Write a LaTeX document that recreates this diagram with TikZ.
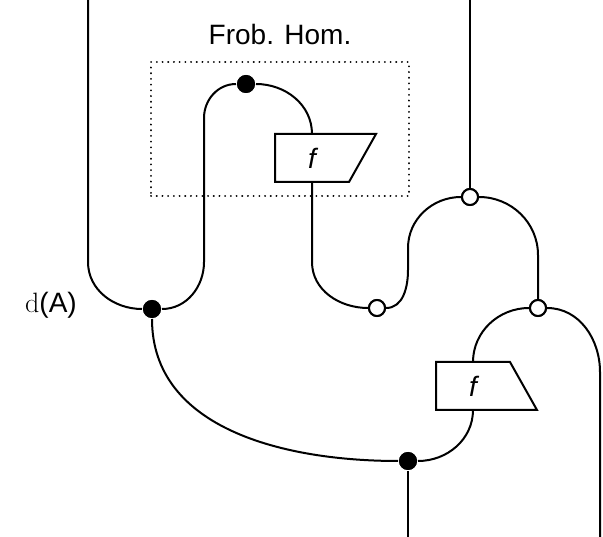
\documentclass[tikz,border=0pt]{standalone}
\usepackage{fontspec}
\newfontfamily\labelfont{Liberation Sans}
\begin{document}
\begin{tikzpicture}[x=1pt, y=-1pt, line width=2pt,
  blackdot/.style={circle, fill=black, inner sep=0pt, minimum size=18pt},
  whitedot/.style={circle, draw, fill=white, inner sep=0pt, minimum size=16pt},
  fbox/.style={rectangle, inner sep=0pt, minimum width=72pt, minimum height=46pt,
    font=\fontsize{28}{32}\selectfont\labelfont\itshape},
  txt/.style={font=\fontsize{28}{32}\selectfont\labelfont}]

  \useasboundingbox (0,0) rectangle (603,537);

  % Define the spiders and the two f boxes
  \node[blackdot] (d1) at (152,309) {};
  \node[blackdot] (d2) at (246,84) {};
  \node[blackdot] (d3) at (408,461) {};
  \node[whitedot] (w1) at (377,308) {};
  \node[whitedot] (w2) at (470,197) {};
  \node[whitedot] (w3) at (538,308) {};
  \node[fbox] (f1) at (312,158) {};
  \node[fbox] (f2) at (473,386) {};

  % Free ends of the wires
  \coordinate (topL) at (88,0);
  \coordinate (topR) at (470,0);
  \coordinate (botL) at (408,537);
  \coordinate (botR) at (600,537);

  % Dotted region with its title
  \node[draw, line width=2pt, dash pattern=on 0.1pt off 5.6pt, line cap=round,
    minimum width=258pt, minimum height=134pt] (hom) at (280,129) {};
  \node[txt] (title) at (280,34) {Frob. Hom.};
  \node[font=\fontsize{28}{32}\selectfont] (dA) at (51,305) {d{\labelfont(A)}};

  % Draw the wires
  \draw (topL) -- (88,262) to[out=-90, in=180] (d1);
  \draw (d1) to[out=0, in=-90] (204,262) -- (204,118) to[out=90, in=180] (d2);
  \draw (d2) to[out=0, in=90] (f1.north);
  \draw (f1.south) -- (312,262) to[out=-90, in=180] (w1);
  \draw (w1) to[out=0, in=-90] (408,270) -- (408,248) to[out=90, in=180] (w2);
  \draw (w2) -- (topR);
  \draw (w2) to[out=0, in=90] (538,255) -- (w3);
  \draw (w3) to[out=180, in=90] (f2.north);
  \draw (w3) to[out=0, in=90] (600,372) -- (botR);
  \draw (f2.south) to[out=-90, in=0] (d3);
  \draw (d1) to[out=-90, in=180] (d3);
  \draw (d3) -- (botL);

  % Redraw the dots on top of the wires
  \foreach \d in {d1,d2,d3} \fill (\d) circle (9pt);
  \foreach \w in {w1,w2,w3} \filldraw[fill=white] (\w) circle (8pt);

  % Draw the f boxes (slanted on the right)
  \draw[fill=white] (f1.south west) -- (f1.north west) -- ([xshift=27pt]f1.north east)
    -- (f1.south east) -- cycle;
  \draw[fill=white] (f2.south west) -- (f2.north west) -- (f2.north east)
    -- ([xshift=27pt]f2.south east) -- cycle;
  \node[fbox] at (f1) {f};
  \node[fbox] at (f2) {f};

\end{tikzpicture}
\end{document}
